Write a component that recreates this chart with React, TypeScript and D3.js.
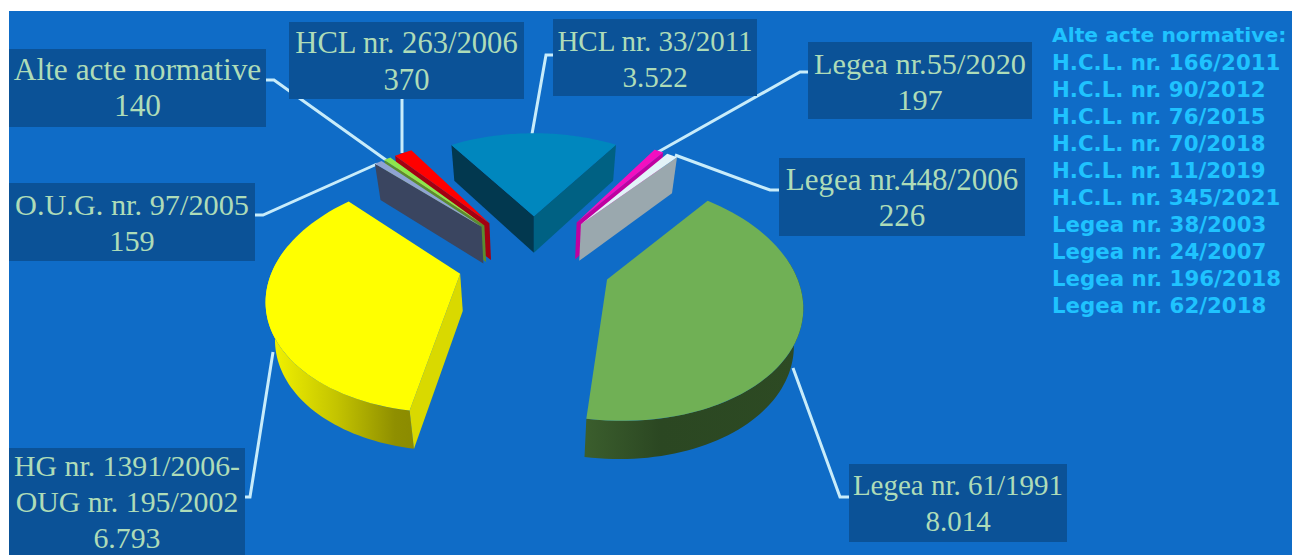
import React from "react";
import * as d3 from "d3";

// ---- data (clockwise, beginning with the largest slice)
const categories = ["Legea nr. 61/1991", "HG nr. 1391/2006-|OUG nr. 195/2002", "O.U.G. nr. 97/2005", "Alte acte normative", "HCL nr. 263/2006", "HCL nr. 33/2011", "Legea nr.55/2020", "Legea nr.448/2006"];
const values = [8014, 6793, 159, 140, 370, 3522, 197, 226];
const sideNotes = ["Alte acte normative:", "H.C.L. nr. 166/2011", "H.C.L. nr. 90/2012", "H.C.L. nr. 76/2015", "H.C.L. nr. 70/2018", "H.C.L. nr. 11/2019", "H.C.L. nr. 345/2021", "Legea nr. 38/2003", "Legea nr. 24/2007", "Legea nr. 196/2018", "Legea nr. 62/2018"];

// ---- styling, per slice in the same order
const topColors = ["#70b055", "#ffff00", "#8fa3d2", "#8fe64c", "#ff0000", "#0087be", "#f20fc0", "#e2f3f8"];
const startFace = ["#2b4722", "#d9d900", "#3a4560", "#5a8c30", "#a30012", "#02384f", "#c000a0", "#9aa8ae"];
const endFace = ["#2b4722", "#d9d900", "#3a4560", "#5a8c30", "#a30012", "#006183", "#c000a0", "#9aa8ae"];
const explode = [78, 76, 80, 80, 80, 78, 80, 80];

// ---- label layout: box [x, y, w, h], baselines, font size, leader polyline
const boxes = [
  { b: [849, 464, 218, 78], base: [495, 531], fs: 29, lead: [[849, 497], [840, 497], [793, 368]] },
  { b: [9, 448, 236, 107], base: [476, 512, 548], fs: 29.8, lead: [[245, 497], [250, 497], [273, 352]] },
  { b: [9, 183, 246, 78], base: [215, 251], fs: 30.3, lead: [[255, 215], [263, 215], [377, 164]] },
  { b: [9, 49, 257, 78], base: [80, 116], fs: 31.4, lead: [[266, 80], [274, 80], [386, 160]] },
  { b: [289, 22, 235, 77], base: [53, 90], fs: 30.6, lead: [[402, 99], [402, 153]] },
  { b: [553, 19, 204, 77], base: [51, 87], fs: 29, lead: [[553, 55], [546, 55], [532, 134]] },
  { b: [808, 42, 224, 77], base: [74, 110], fs: 30.3, lead: [[808, 72], [800, 72], [658, 152]] },
  { b: [779, 158, 246, 78], base: [190, 226], fs: 31, lead: [[779, 190], [770, 190], [675, 155]] },
];

const W = 1292, H = 555;
const cx = 534, cy = 259.5, R = 185;
const tilt = (36.5 * Math.PI) / 180, D = 884, drop = 37;
const DEG = Math.PI / 180;

const fmt = d3.formatLocale({ decimal: ",", thousands: ".", grouping: [3], currency: ["", ""] }).format(",");

type P = [number, number];
const scaleAt = (Z: number) => D / (D + Z * Math.cos(tilt));
const project = (X: number, Z: number): P => {
  const s = scaleAt(Z);
  return [cx + X * s, cy - Z * Math.sin(tilt) * s];
};
const line = d3.line<P>();

const arcs = d3.pie<number>().sort(null).startAngle(40.4 * DEG).endAngle(40.4 * DEG + 2 * Math.PI)(values);

function slicePaths(i: number) {
  const a = arcs[i].startAngle, b = arcs[i].endAngle, mid = (a + b) / 2;
  const ox = explode[i] * Math.sin(mid), oz = explode[i] * Math.cos(mid);
  const pt = (r: number, t: number): { p: P; z: number } => {
    const X = ox + r * Math.sin(t), Z = oz + r * Math.cos(t);
    return { p: project(X, Z), z: Z };
  };
  const low = (q: { p: P; z: number }): P => [cx + (q.p[0] - cx) * 0.965, q.p[1] + drop * Math.pow(scaleAt(q.z), 0.15)];
  const apex = pt(0, 0);
  const rim = d3.range(0, 61).map((k) => pt(R, a + ((b - a) * k) / 60));
  const top = [apex.p, ...rim.map((q) => q.p)];
  const midRim = pt(R, mid).p;
  const visible = (e: P) => {
    const ev = [e[0] - apex.p[0], e[1] - apex.p[1]];
    const c1 = ev[0] * (midRim[1] - apex.p[1]) - ev[1] * (midRim[0] - apex.p[0]);
    return c1 * ev[0] < 0;
  };
  const face = (q: { p: P; z: number }) => [apex.p, q.p, low(q), low(apex)] as P[];
  const first = rim[0], last = rim[rim.length - 1];
  const wallLo = Math.max(a, 80 * DEG), wallHi = Math.min(b, 285 * DEG);
  const wallRim = wallHi > wallLo ? d3.range(0, 61).map((k) => pt(R, wallLo + ((wallHi - wallLo) * k) / 60)) : [];
  const wall = wallRim.length ? [...wallRim.map((q) => q.p), ...wallRim.slice().reverse().map(low)] : null;
  return {
    depth: oz + (R / 2) * Math.cos(mid),
    top: line(top) + "Z",
    startFace: visible(first.p) ? line(face(first)) + "Z" : null,
    endFace: visible(last.p) ? line(face(last)) + "Z" : null,
    wall: wall ? line(wall) + "Z" : null,
  };
}

const slices = values.map((_, i) => ({ i, ...slicePaths(i) })).sort((p, q) => q.depth - p.depth);

const serif = "'Liberation Serif', serif";

export default function App() {
  return (
    <svg width={W} height={H} viewBox={`0 0 ${W} ${H}`} style={{ position: "absolute", left: 0, top: 0, display: "block", background: "#fff" }}>
      <defs>
        <linearGradient id="wall0" gradientUnits="userSpaceOnUse" x1={585} x2={800} y1={0} y2={0}>
          <stop offset="0" stopColor="#3b5e2d" />
          <stop offset="0.35" stopColor="#2b4722" />
          <stop offset="1" stopColor="#2d4a23" />
        </linearGradient>
        <linearGradient id="wall1" gradientUnits="userSpaceOnUse" x1={270} x2={417} y1={0} y2={0}>
          <stop offset="0" stopColor="#f4f400" />
          <stop offset="0.45" stopColor="#c4c400" />
          <stop offset="0.85" stopColor="#8f8f00" />
          <stop offset="1" stopColor="#8a8a00" />
        </linearGradient>
      </defs>
      <rect x={9} y={11} width={W - 9} height={H - 11} fill="#0f6cc7" />
      {boxes.map((d, i) => (
        <polyline key={i} points={d.lead.join(" ")} fill="none" stroke="#c8ecfa" strokeWidth={3} />
      ))}
      {slices.map((s) => (
        <g key={s.i}>
          {s.wall && <path d={s.wall} fill={s.i < 2 ? `url(#wall${s.i})` : startFace[s.i]} />}
          {s.startFace && <path d={s.startFace} fill={startFace[s.i]} />}
          {s.endFace && <path d={s.endFace} fill={endFace[s.i]} />}
          <path d={s.top} fill={topColors[s.i]} />
        </g>
      ))}
      {boxes.map((d, i) => {
        const lines = [...categories[i].split("|"), fmt(values[i])];
        return (
          <g key={i}>
            <rect x={d.b[0]} y={d.b[1]} width={d.b[2]} height={d.b[3]} fill="#0b5297" />
            {lines.map((t, k) => (
              <text key={k} x={d.b[0] + d.b[2] / 2} y={d.base[k]} textAnchor="middle" fontFamily={serif} fontSize={d.fs} fill="#aedcb8">
                {t}
              </text>
            ))}
          </g>
        );
      })}
      {sideNotes.map((t, k) => (
        <text key={k} x={1052} y={k === 0 ? 42 : 70 + 27 * (k - 1)} fontFamily="'DejaVu Sans', sans-serif" fontWeight="bold" fontSize={k === 0 ? 20.3 : 21.3} fill="#1fc3ff">
          {t}
        </text>
      ))}
    </svg>
  );
}
